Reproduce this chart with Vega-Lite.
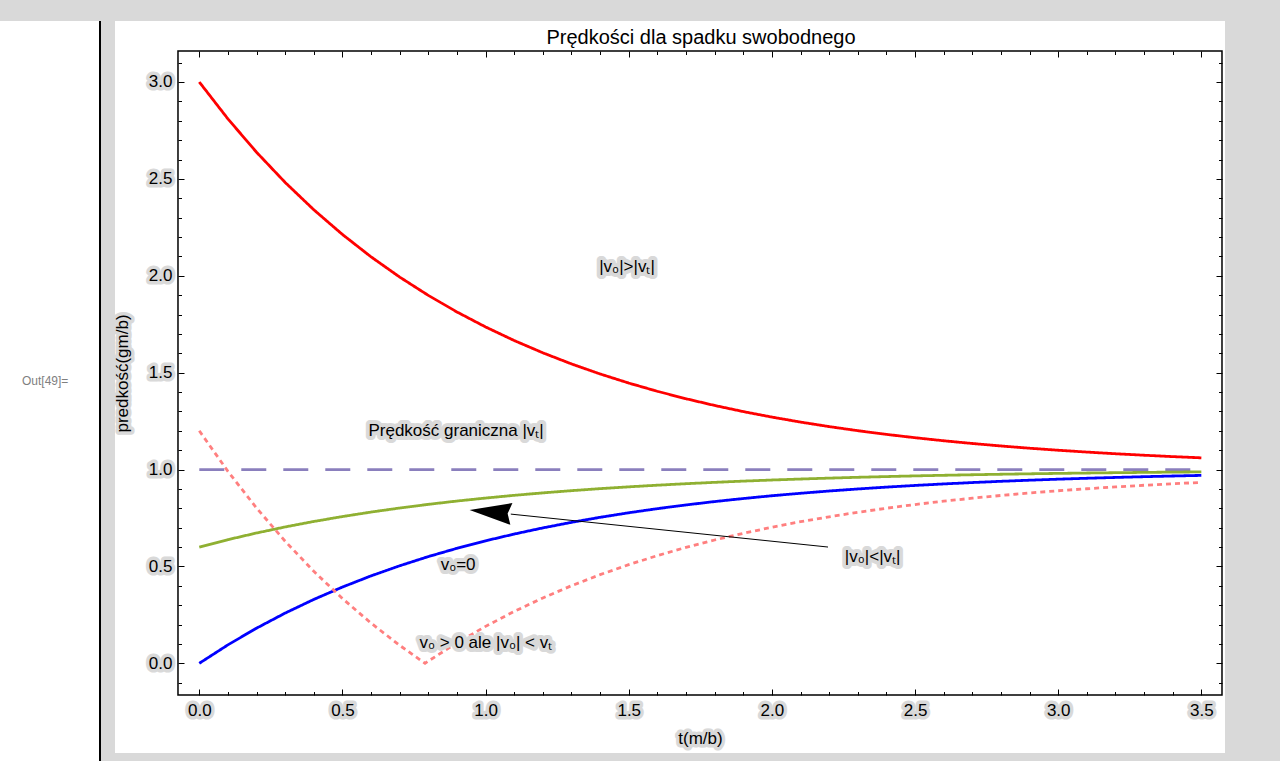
{
  "$schema": "https://vega.github.io/schema/vega-lite/v6.json",
  "background": "#d9d9d9",
  "padding": {"left": 0, "top": 20, "right": 55, "bottom": 0},
  "spacing": 15,
  "bounds": "flush",
  "config": {
    "view": {"fill": "white", "stroke": null},
    "font": "Liberation Sans",
    "axis": {"grid": false, "domain": false, "labelFont": "Liberation Sans", "titleFont": "Liberation Sans"}
  },
  "hconcat": [
    {
      "width": 100,
      "height": 741,
      "data": {"values": [{"label": "Out[49]="}]},
      "layer": [
        {
          "mark": {"type": "text", "align": "left", "baseline": "middle", "fontSize": 12, "fill": "#7f7f7f", "font": "Liberation Sans"},
          "encoding": {
            "x": {"datum": 0.22, "type": "quantitative", "scale": {"domain": [0, 1]}, "axis": null},
            "y": {"datum": 0.514, "type": "quantitative", "scale": {"domain": [0, 1]}, "axis": null},
            "text": {"field": "label"}
          }
        },
        {
          "mark": {"type": "rule", "color": "black", "strokeWidth": 2},
          "encoding": {
            "x": {"datum": 1, "type": "quantitative", "scale": {"domain": [0, 1]}, "axis": null}
          }
        }
      ]
    },
    {
      "width": 1110,
      "height": 732,
      "title": {"text": "Prędkości dla spadku swobodnego", "fontSize": 20, "font": "Liberation Sans", "fontWeight": "normal", "color": "black", "anchor": "middle", "frame": "group", "offset": -23, "baseline": "alphabetic", "dx": 31, "dy": 20},
      "layer": [
        {
          "data": {"values": [
            {"s":"v0=3","t":0,"v":3},{"s":"v0=3","t":0.1,"v":2.8097},{"s":"v0=3","t":0.2,"v":2.6375},{"s":"v0=3","t":0.3,"v":2.4816},{"s":"v0=3","t":0.4,"v":2.3406},{"s":"v0=3","t":0.5,"v":2.2131},{"s":"v0=3","t":0.6,"v":2.0976},{"s":"v0=3","t":0.7,"v":1.9932},{"s":"v0=3","t":0.8,"v":1.8987},{"s":"v0=3","t":0.9,"v":1.8131},{"s":"v0=3","t":1.0,"v":1.7358},{"s":"v0=3","t":1.1,"v":1.6657},{"s":"v0=3","t":1.2,"v":1.6024},{"s":"v0=3","t":1.3,"v":1.5451},{"s":"v0=3","t":1.4,"v":1.4932},{"s":"v0=3","t":1.5,"v":1.4463},{"s":"v0=3","t":1.6,"v":1.4038},{"s":"v0=3","t":1.7,"v":1.3654},{"s":"v0=3","t":1.8,"v":1.3306},{"s":"v0=3","t":1.9,"v":1.2991},{"s":"v0=3","t":2.0,"v":1.2707},{"s":"v0=3","t":2.1,"v":1.2449},{"s":"v0=3","t":2.2,"v":1.2216},{"s":"v0=3","t":2.3,"v":1.2005},{"s":"v0=3","t":2.4,"v":1.1814},{"s":"v0=3","t":2.5,"v":1.1642},{"s":"v0=3","t":2.6,"v":1.1485},{"s":"v0=3","t":2.7,"v":1.1344},{"s":"v0=3","t":2.8,"v":1.1216},{"s":"v0=3","t":2.9,"v":1.1100},{"s":"v0=3","t":3.0,"v":1.0996},{"s":"v0=3","t":3.1,"v":1.0901},{"s":"v0=3","t":3.2,"v":1.0815},{"s":"v0=3","t":3.3,"v":1.0738},{"s":"v0=3","t":3.4,"v":1.0667},{"s":"v0=3","t":3.5,"v":1.0604},
            {"s":"vt","t":0,"v":1},{"s":"vt","t":3.5,"v":1},
            {"s":"v0=0.6","t":0,"v":0.6},{"s":"v0=0.6","t":0.1,"v":0.6381},{"s":"v0=0.6","t":0.2,"v":0.6725},{"s":"v0=0.6","t":0.3,"v":0.7037},{"s":"v0=0.6","t":0.4,"v":0.7319},{"s":"v0=0.6","t":0.5,"v":0.7574},{"s":"v0=0.6","t":0.6,"v":0.7805},{"s":"v0=0.6","t":0.7,"v":0.8014},{"s":"v0=0.6","t":0.8,"v":0.8203},{"s":"v0=0.6","t":0.9,"v":0.8374},{"s":"v0=0.6","t":1.0,"v":0.8528},{"s":"v0=0.6","t":1.1,"v":0.8669},{"s":"v0=0.6","t":1.2,"v":0.8795},{"s":"v0=0.6","t":1.3,"v":0.8910},{"s":"v0=0.6","t":1.4,"v":0.9014},{"s":"v0=0.6","t":1.5,"v":0.9107},{"s":"v0=0.6","t":1.6,"v":0.9192},{"s":"v0=0.6","t":1.7,"v":0.9269},{"s":"v0=0.6","t":1.8,"v":0.9339},{"s":"v0=0.6","t":1.9,"v":0.9402},{"s":"v0=0.6","t":2.0,"v":0.9459},{"s":"v0=0.6","t":2.1,"v":0.9510},{"s":"v0=0.6","t":2.2,"v":0.9557},{"s":"v0=0.6","t":2.3,"v":0.9599},{"s":"v0=0.6","t":2.4,"v":0.9637},{"s":"v0=0.6","t":2.5,"v":0.9672},{"s":"v0=0.6","t":2.6,"v":0.9703},{"s":"v0=0.6","t":2.7,"v":0.9731},{"s":"v0=0.6","t":2.8,"v":0.9757},{"s":"v0=0.6","t":2.9,"v":0.9780},{"s":"v0=0.6","t":3.0,"v":0.9801},{"s":"v0=0.6","t":3.1,"v":0.9820},{"s":"v0=0.6","t":3.2,"v":0.9837},{"s":"v0=0.6","t":3.3,"v":0.9852},{"s":"v0=0.6","t":3.4,"v":0.9867},{"s":"v0=0.6","t":3.5,"v":0.9879},
            {"s":"v0=0","t":0,"v":0},{"s":"v0=0","t":0.1,"v":0.0952},{"s":"v0=0","t":0.2,"v":0.1813},{"s":"v0=0","t":0.3,"v":0.2592},{"s":"v0=0","t":0.4,"v":0.3297},{"s":"v0=0","t":0.5,"v":0.3935},{"s":"v0=0","t":0.6,"v":0.4512},{"s":"v0=0","t":0.7,"v":0.5034},{"s":"v0=0","t":0.8,"v":0.5507},{"s":"v0=0","t":0.9,"v":0.5934},{"s":"v0=0","t":1.0,"v":0.6321},{"s":"v0=0","t":1.1,"v":0.6671},{"s":"v0=0","t":1.2,"v":0.6988},{"s":"v0=0","t":1.3,"v":0.7275},{"s":"v0=0","t":1.4,"v":0.7534},{"s":"v0=0","t":1.5,"v":0.7769},{"s":"v0=0","t":1.6,"v":0.7981},{"s":"v0=0","t":1.7,"v":0.8173},{"s":"v0=0","t":1.8,"v":0.8347},{"s":"v0=0","t":1.9,"v":0.8504},{"s":"v0=0","t":2.0,"v":0.8647},{"s":"v0=0","t":2.1,"v":0.8775},{"s":"v0=0","t":2.2,"v":0.8892},{"s":"v0=0","t":2.3,"v":0.8997},{"s":"v0=0","t":2.4,"v":0.9093},{"s":"v0=0","t":2.5,"v":0.9179},{"s":"v0=0","t":2.6,"v":0.9257},{"s":"v0=0","t":2.7,"v":0.9328},{"s":"v0=0","t":2.8,"v":0.9392},{"s":"v0=0","t":2.9,"v":0.9450},{"s":"v0=0","t":3.0,"v":0.9502},{"s":"v0=0","t":3.1,"v":0.9550},{"s":"v0=0","t":3.2,"v":0.9592},{"s":"v0=0","t":3.3,"v":0.9631},{"s":"v0=0","t":3.4,"v":0.9666},{"s":"v0=0","t":3.5,"v":0.9698},
            {"s":"v0=-1.2","t":0,"v":1.2},{"s":"v0=-1.2","t":0.1,"v":0.9906},{"s":"v0=-1.2","t":0.2,"v":0.8012},{"s":"v0=-1.2","t":0.3,"v":0.6298},{"s":"v0=-1.2","t":0.4,"v":0.4747},{"s":"v0=-1.2","t":0.5,"v":0.3344},{"s":"v0=-1.2","t":0.6,"v":0.2074},{"s":"v0=-1.2","t":0.7,"v":0.0925},{"s":"v0=-1.2","t":0.7885,"v":0},{"s":"v0=-1.2","t":0.8,"v":0.0115},{"s":"v0=-1.2","t":0.9,"v":0.1055},{"s":"v0=-1.2","t":1.0,"v":0.1907},{"s":"v0=-1.2","t":1.1,"v":0.2677},{"s":"v0=-1.2","t":1.2,"v":0.3374},{"s":"v0=-1.2","t":1.3,"v":0.4004},{"s":"v0=-1.2","t":1.4,"v":0.4575},{"s":"v0=-1.2","t":1.5,"v":0.5091},{"s":"v0=-1.2","t":1.6,"v":0.5558},{"s":"v0=-1.2","t":1.7,"v":0.5981},{"s":"v0=-1.2","t":1.8,"v":0.6363},{"s":"v0=-1.2","t":1.9,"v":0.6709},{"s":"v0=-1.2","t":2.0,"v":0.7023},{"s":"v0=-1.2","t":2.1,"v":0.7306},{"s":"v0=-1.2","t":2.2,"v":0.7562},{"s":"v0=-1.2","t":2.3,"v":0.7794},{"s":"v0=-1.2","t":2.4,"v":0.8004},{"s":"v0=-1.2","t":2.5,"v":0.8194},{"s":"v0=-1.2","t":2.6,"v":0.8366},{"s":"v0=-1.2","t":2.7,"v":0.8521},{"s":"v0=-1.2","t":2.8,"v":0.8662},{"s":"v0=-1.2","t":2.9,"v":0.8789},{"s":"v0=-1.2","t":3.0,"v":0.8905},{"s":"v0=-1.2","t":3.1,"v":0.9009},{"s":"v0=-1.2","t":3.2,"v":0.9103},{"s":"v0=-1.2","t":3.3,"v":0.9189},{"s":"v0=-1.2","t":3.4,"v":0.9266},{"s":"v0=-1.2","t":3.5,"v":0.9336}
          ]},
          "mark": {"type": "line", "strokeWidth": 2.8, "strokeCap": "butt"},
          "encoding": {
            "x": {"field": "t", "type": "quantitative", "scale": {"domain": [-0.2944, 3.5826], "nice": false, "zero": false},
              "axis": {"orient": "bottom", "offset": -58, "values": [0, 0.5, 1, 1.5, 2, 2.5, 3, 3.5], "format": ".1f", "tickSize": -6, "tickColor": "transparent", "labelPadding": 13, "labelFontSize": 17, "labelColor": "#d9d9d9", "labelFlush": false, "labelOverlap": false,
                "title": "t(m/b)", "titleX": 585, "titleY": 43, "titleBaseline": "middle", "titleAlign": "center", "titleFontSize": 17, "titleFontWeight": "normal", "titleColor": "#d9d9d9",
                "encoding": {"labels": {"stroke": {"value": "#d9d9d9"}, "strokeWidth": {"value": 7}, "strokeJoin": {"value": "round"}}, "title": {"stroke": {"value": "#d9d9d9"}, "strokeWidth": {"value": 7}, "strokeJoin": {"value": "round"}}}}},
            "y": {"field": "v", "type": "quantitative", "scale": {"domain": [-0.4629, 3.3148], "nice": false, "zero": false},
              "axis": {"orient": "left", "offset": -63, "values": [0, 0.5, 1, 1.5, 2, 2.5, 3], "format": ".1f", "tickSize": -6, "tickColor": "transparent", "labelPadding": 12, "labelFontSize": 17, "labelColor": "#d9d9d9", "labelFlush": false, "labelOverlap": false,
                "title": "predkość(gm/b)", "titleX": -56, "titleY": 352, "titleAngle": 270, "titleBaseline": "middle", "titleAlign": "center", "titleFontSize": 17, "titleFontWeight": "normal", "titleColor": "#d9d9d9",
                "encoding": {"labels": {"stroke": {"value": "#d9d9d9"}, "strokeWidth": {"value": 7}, "strokeJoin": {"value": "round"}}, "title": {"stroke": {"value": "#d9d9d9"}, "strokeWidth": {"value": 7}, "strokeJoin": {"value": "round"}}}}},
            "color": {"field": "s", "type": "nominal", "legend": null,
              "scale": {"domain": ["v0=3", "vt", "v0=0.6", "v0=0", "v0=-1.2"], "range": ["#ff0000", "#8a7fbd", "#8fb032", "#0000ff", "#ff7f7f"]}},
            "strokeDash": {"field": "s", "type": "nominal", "legend": null,
              "scale": {"domain": ["v0=3", "vt", "v0=0.6", "v0=0", "v0=-1.2"], "range": [[1, 0], [25, 17], [1, 0], [1, 0], [5, 4]]}}
          }
        },
        {
          "data": {"values": [{}]},
          "mark": {"type": "rect", "fill": "transparent", "stroke": "black", "strokeWidth": 1.5},
          "encoding": {
            "x": {"datum": -0.0744, "type": "quantitative", "scale": {"domain": [-0.2944, 3.5826], "nice": false, "zero": false},
              "axis": {"orient": "bottom", "offset": -58, "values": [0, 0.5, 1, 1.5, 2, 2.5, 3, 3.5], "format": ".1f", "tickSize": -6, "tickColor": "black", "tickWidth": 1, "labelPadding": 13, "labelFontSize": 17, "labelColor": "black", "labelFlush": false, "labelOverlap": false,
                "title": "t(m/b)", "titleX": 585, "titleY": 43, "titleBaseline": "middle", "titleAlign": "center", "titleFontSize": 17, "titleFontWeight": "normal", "titleColor": "black"}},
            "x2": {"datum": 3.5721},
            "y": {"datum": 3.160, "type": "quantitative", "scale": {"domain": [-0.4629, 3.3148], "nice": false, "zero": false},
              "axis": {"orient": "left", "offset": -63, "values": [0, 0.5, 1, 1.5, 2, 2.5, 3], "format": ".1f", "tickSize": -6, "tickColor": "black", "tickWidth": 1, "labelPadding": 12, "labelFontSize": 17, "labelColor": "black", "labelFlush": false, "labelOverlap": false,
                "title": "predkość(gm/b)", "titleX": -56, "titleY": 352, "titleAngle": 270, "titleBaseline": "middle", "titleAlign": "center", "titleFontSize": 17, "titleFontWeight": "normal", "titleColor": "black"}},
            "y2": {"datum": -0.1636}
          }
        },
        {
          "data": {"values": [
            {"label": "|v₀|>|vₜ|", "t": 1.494, "v": 2.045},
            {"label": "Prędkość graniczna |vₜ|", "t": 0.897, "v": 1.199},
            {"label": "v₀=0", "t": 0.904, "v": 0.507},
            {"label": "|v₀|<|vₜ|", "t": 2.352, "v": 0.549},
            {"label": "v₀ > 0 ale |v₀| < vₜ", "t": 1.001, "v": 0.104}
          ]},
          "mark": {"type": "text", "fontSize": 17, "font": "Liberation Sans", "align": "center", "baseline": "middle", "fill": "#d9d9d9", "stroke": "#d9d9d9", "strokeWidth": 8, "strokeJoin": "round"},
          "encoding": {
            "x": {"field": "t", "type": "quantitative", "scale": {"domain": [-0.2944, 3.5826], "nice": false, "zero": false},
              "axis": {"orient": "bottom", "offset": -58, "values": [0.1,0.2,0.3,0.4,0.6,0.7,0.8,0.9,1.1,1.2,1.3,1.4,1.6,1.7,1.8,1.9,2.1,2.2,2.3,2.4,2.6,2.7,2.8,2.9,3.1,3.2,3.3,3.4], "tickSize": -3.5, "tickColor": "black", "tickWidth": 1, "labels": false, "title": null}},
            "y": {"field": "v", "type": "quantitative", "scale": {"domain": [-0.4629, 3.3148], "nice": false, "zero": false},
              "axis": {"orient": "left", "offset": -63, "values": [-0.1,0.1,0.2,0.3,0.4,0.6,0.7,0.8,0.9,1.1,1.2,1.3,1.4,1.6,1.7,1.8,1.9,2.1,2.2,2.3,2.4,2.6,2.7,2.8,2.9,3.1], "tickSize": -3.5, "tickColor": "black", "tickWidth": 1, "labels": false, "title": null}},
            "text": {"field": "label"}
          }
        },
        {
          "data": {"values": [
            {"label": "|v₀|>|vₜ|", "t": 1.494, "v": 2.045},
            {"label": "Prędkość graniczna |vₜ|", "t": 0.897, "v": 1.199},
            {"label": "v₀=0", "t": 0.904, "v": 0.507},
            {"label": "|v₀|<|vₜ|", "t": 2.352, "v": 0.549},
            {"label": "v₀ > 0 ale |v₀| < vₜ", "t": 1.001, "v": 0.104}
          ]},
          "mark": {"type": "text", "fontSize": 17, "font": "Liberation Sans", "align": "center", "baseline": "middle", "fill": "black"},
          "encoding": {
            "x": {"field": "t", "type": "quantitative", "scale": {"domain": [-0.2944, 3.5826], "nice": false, "zero": false},
              "axis": {"orient": "top", "offset": -30, "values": [0, 0.5, 1, 1.5, 2, 2.5, 3, 3.5], "tickSize": -6, "tickColor": "black", "tickWidth": 1, "labels": false, "title": null}},
            "y": {"field": "v", "type": "quantitative", "scale": {"domain": [-0.4629, 3.3148], "nice": false, "zero": false},
              "axis": {"orient": "right", "offset": -3, "values": [0, 0.5, 1, 1.5, 2, 2.5, 3], "tickSize": -6, "tickColor": "black", "tickWidth": 1, "labels": false, "title": null}},
            "text": {"field": "label"}
          }
        },
        {
          "data": {"values": [{"t1": 2.196, "v1": 0.600, "t2": 1.088, "v2": 0.770}]},
          "mark": {"type": "rule", "color": "black", "strokeWidth": 1},
          "encoding": {
            "x": {"field": "t1", "type": "quantitative", "scale": {"domain": [-0.2944, 3.5826], "nice": false, "zero": false},
              "axis": {"orient": "top", "offset": -30, "values": [0.1,0.2,0.3,0.4,0.6,0.7,0.8,0.9,1.1,1.2,1.3,1.4,1.6,1.7,1.8,1.9,2.1,2.2,2.3,2.4,2.6,2.7,2.8,2.9,3.1,3.2,3.3,3.4], "tickSize": -3.5, "tickColor": "black", "tickWidth": 1, "labels": false, "title": null}},
            "y": {"field": "v1", "type": "quantitative", "scale": {"domain": [-0.4629, 3.3148], "nice": false, "zero": false},
              "axis": {"orient": "right", "offset": -3, "values": [-0.1,0.1,0.2,0.3,0.4,0.6,0.7,0.8,0.9,1.1,1.2,1.3,1.4,1.6,1.7,1.8,1.9,2.1,2.2,2.3,2.4,2.6,2.7,2.8,2.9,3.1], "tickSize": -3.5, "tickColor": "black", "tickWidth": 1, "labels": false, "title": null}},
            "x2": {"field": "t2"},
            "y2": {"field": "v2"}
          }
        },
        {
          "data": {"values": [{"t": 1.0171, "v": 0.781}]},
          "mark": {"type": "point", "shape": "M0,-1L0.52,1L0,0.82L-0.52,1Z", "size": 1764, "angle": 275.5, "filled": true, "color": "black", "opacity": 1, "strokeWidth": 0},
          "encoding": {
            "x": {"field": "t", "type": "quantitative", "scale": {"domain": [-0.2944, 3.5826], "nice": false, "zero": false}, "axis": null},
            "y": {"field": "v", "type": "quantitative", "scale": {"domain": [-0.4629, 3.3148], "nice": false, "zero": false}, "axis": null}
          }
        }
      ],
      "resolve": {"axis": {"x": "independent", "y": "independent"}}
    }
  ]
}
